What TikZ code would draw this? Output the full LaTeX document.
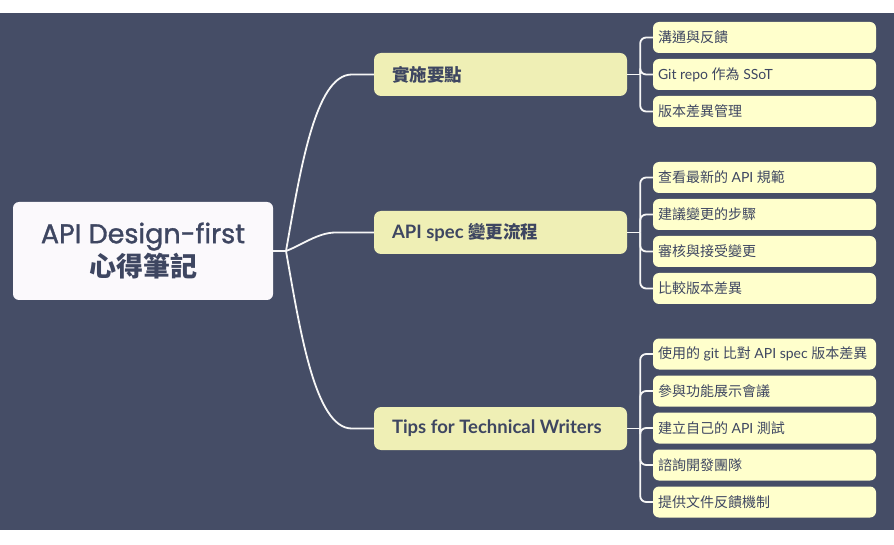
\documentclass[tikz,border=0pt]{standalone}
\usepackage{fontspec}
\setmainfont{Lato}
\newfontfamily\cjk{Noto Sans CJK TC}
\newfontfamily\pop{Poppins}[FakeBold=1.2]
\definecolor{bgc}{HTML}{454D66}
\definecolor{txt}{HTML}{3E4661}
\definecolor{rootfill}{HTML}{FBF9FC}
\definecolor{branchfill}{HTML}{EFEFB5}
\definecolor{leaffill}{HTML}{FFFFCC}
\definecolor{linec}{HTML}{F6F6F6}
\tikzset{
  rootbox/.style={rectangle, rounded corners=6pt, fill=rootfill, minimum width=260pt, minimum height=98pt, inner sep=0pt, align=center, text=txt},
  branchbox/.style={rectangle, rounded corners=7pt, fill=branchfill, minimum width=253pt, minimum height=43pt, inner xsep=18pt, inner ysep=0pt, text=txt, font=\fontsize{18.5}{20}\selectfont\bfseries},
  leafbox/.style={rectangle, rounded corners=6pt, fill=leaffill, minimum width=223pt, minimum height=31pt, inner xsep=5pt, inner ysep=0pt, text=txt, font=\fontsize{14}{16}\selectfont},
  conn/.style={draw=linec, line width=1.8pt},
  leafconn/.style={draw=linec, line width=1.8pt, rounded corners=6pt}
}
\newcommand{\btxt}[1]{\makebox[217pt][l]{#1}}
\newcommand{\ltxt}[1]{\makebox[213pt][l]{#1}}
\newcommand{\bcjk}[1]{{\cjk\fontsize{17.5}{20}\selectfont #1}}
\begin{document}
\begin{tikzpicture}[x=1pt,y=-1pt]
\useasboundingbox (0,0) rectangle (894,545);
\fill[white] (0,0) rectangle (894,545);
\fill[bgc] (0,13) rectangle (894,530);

% root
\node[rootbox] (root) at (143,251) {{\pop\fontsize{27}{37}\selectfont API Design-first}\\[2pt]{\cjk\bfseries\fontsize{27}{30}\selectfont 心得筆記}};

% branches
\node[branchbox] (b1) at (500.5,74.5) {\btxt{\bcjk{實施要點}}};
\node[branchbox] (b2) at (500.5,232.5) {\btxt{API spec \bcjk{變更流程}}};
\node[branchbox] (b3) at (500.5,428.5) {\btxt{Tips for Technical Writers}};

% leaves group 1
\node[leafbox] (l11) at (764.5,37.5) {\ltxt{\cjk 溝通與反饋}};
\node[leafbox] (l12) at (764.5,74.5) {\ltxt{Git repo {\cjk 作為} SSoT}};
\node[leafbox] (l13) at (764.5,111.5) {\ltxt{\cjk 版本差異管理}};
% leaves group 2
\node[leafbox] (l21) at (764.5,177.5) {\ltxt{{\cjk 查看最新的} API {\cjk 規範}}};
\node[leafbox] (l22) at (764.5,214.5) {\ltxt{\cjk 建議變更的步驟}};
\node[leafbox] (l23) at (764.5,251.5) {\ltxt{\cjk 審核與接受變更}};
\node[leafbox] (l24) at (764.5,288.5) {\ltxt{\cjk 比較版本差異}};
% leaves group 3
\node[leafbox] (l31) at (764.5,354) {\ltxt{{\cjk 使用的} git {\cjk 比對} API spec {\cjk 版本差異}}};
\node[leafbox] (l32) at (764.5,391) {\ltxt{\cjk 參與功能展示會議}};
\node[leafbox] (l33) at (764.5,428) {\ltxt{{\cjk 建立自己的} API {\cjk 測試}}};
\node[leafbox] (l34) at (764.5,465) {\ltxt{\cjk 諮詢開發團隊}};
\node[leafbox] (l35) at (764.5,502) {\ltxt{\cjk 提供文件反饋機制}};

% root connectors
\coordinate (jr) at (286,251);
\draw[conn] (root.east) -- (jr);
\draw[conn] (jr) .. controls (300,172) and (315,74.5) .. ([xshift=-22pt]b1.west) -- (b1.west);
\draw[conn] (jr) .. controls (302,245) and (318,232.5) .. ([xshift=-38pt]b2.west) -- (b2.west);
\draw[conn] (jr) .. controls (300,330) and (315,428.5) .. ([xshift=-22pt]b3.west) -- (b3.west);

% branch connectors
\coordinate (j1) at ([xshift=13pt]b1.east);
\coordinate (j2) at ([xshift=13pt]b2.east);
\coordinate (j3) at ([xshift=13pt]b3.east);
\draw[conn] (b1.east) -- (j1);
\draw[conn] (b2.east) -- (j2);
\draw[conn] (b3.east) -- (j3);
\foreach \l in {l11,l12,l13} \draw[leafconn] (j1) |- (\l.west);
\foreach \l in {l21,l22,l23,l24} \draw[leafconn] (j2) |- (\l.west);
\foreach \l in {l31,l32,l33,l34,l35} \draw[leafconn] (j3) |- (\l.west);
\end{tikzpicture}
\end{document}
